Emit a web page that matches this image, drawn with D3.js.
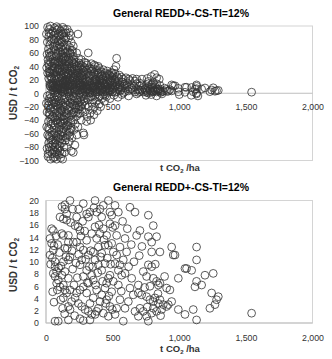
<!DOCTYPE html>
<html>
<head>
<meta charset="utf-8">
<script src="https://cdn.jsdelivr.net/npm/d3@7"></script>
<style>
  body { margin: 0; background: #fff; }
  svg { display: block; font-family: "Liberation Sans", Arial, sans-serif; }
</style>
</head>
<body>
<svg id="chart" width="332" height="359"></svg>
<script>
// points with 0 <= y <= 20 (shown in both panels)
var bandPoints = [
  [42,15.4],[55,15.1],[30,13.8],[42,13],[30,11.1],[55,11.9],[68,10],[68,9.2],[80,8.4],[55,8.1],[68,7.6],[50,5.1],[80,6.5],[92,7],[105,5.9],
  [118,14.6],[130,14.3],[105,17.3],[130,17],[142,19.3],[142,18.6],[155,17.8],[155,16.8],[180,20],[168,14.3],[168,13.2],[180,10.8],[168,10.3],
  [142,12.2],[130,10],[142,8.4],[168,7.3],[130,6.2],[142,5.4],[155,4.9],[180,5.4],[130,4.1],[168,2.7],[180,2.2],[168,0.5],[92,0.3],[68,0.3],
  [192,3.5],[205,13.2],[218,15.9],[242,15.7],[255,15.1],[230,17.3],[280,19.5],[305,17.8],[318,17.3],[330,18.1],[368,20],[380,18.1],[405,18.6],
  [418,17.3],[430,19.2],[468,20],[480,18.1],[493,17.6],[230,13.2],[255,12.4],[280,11.9],[305,13.5],[318,11.1],[355,11.6],[393,12.4],[418,11.4],
  [443,12.7],[468,12.7],[493,13],[255,9.5],[268,10.3],[305,8.6],[343,7.8],[355,7],[318,6.5],[280,5.9],[255,5.4],[230,4.9],[218,4.1],[243,3.2],
  [268,2.7],[293,2.2],[318,1.9],[343,1.4],[330,0.5],[280,0.4],[255,0.7],[393,2.4],[380,1.9],[368,1.4],[405,3.5],[418,4.6],[443,5.7],[455,6.5],
  [468,7.3],[480,7.8],[493,5.1],[455,3.8],[480,2.7],[468,1.1],[430,1.6],[393,9.5],[418,8.6],[443,9.7],[368,10.3],[343,14.6],[368,15.7],[405,14.6],
  [430,15.4],[455,14.3],[480,16.2],[380,13.8],[280,7.6],[305,4.9],[380,5.4],[355,4.1],[330,3.2],
  [518,19.2],[543,18.1],[518,15.9],[530,14.3],[505,11.6],[530,11.1],[555,12.4],[593,13.8],[605,11.6],[580,10.3],[555,9.5],[518,9.7],[543,8.6],
  [568,7.8],[593,8.1],[630,18.9],[668,18.1],[680,14.3],[705,15.1],[768,17.6],[768,14.1],[793,13.2],[805,15.9],[830,14.1],[793,11.6],[855,11.6],
  [768,9.5],[793,9.2],[730,8.4],[643,7.3],[693,6.2],[755,7.6],[805,7.3],[830,6.8],[843,6.2],[855,6.5],[655,4.6],[693,4.9],[718,4.6],[755,4.3],
  [780,3.8],[805,3.5],[818,4.1],[843,3.2],[855,3.8],[880,3],[905,2.7],[918,3],[943,3.5],[930,5.4],[705,2.4],[730,1.9],[755,1.1],[768,0.3],
  [693,1.1],[668,1.9],[618,3.5],[593,2.4],[580,0.3],[555,3.8],[530,2.4],[518,1.4],[630,5.7],[543,6.2],[805,2.4],[830,1.9],[868,2.2],[793,1.6],
  [905,5.7],[943,12.4],[955,11.1],[968,11.1],
  [993,7.3],[1043,8.9],[1055,8.9],[1093,8.6],[1130,12.4],[1130,10.3],[1118,5.9],[1130,6.8],[1168,6.2],[1193,7.8],[1255,8.1],[1243,4.9],
  [1293,4.3],[1280,3.8],[1268,3],[1230,2.4],[1105,2.2],[1130,0.5],[1043,1.4],[993,2.2],[1543,1.6],
  [35,9.6],[48,10.6],[60,12.6],[75,14.2],[88,12.8],[100,11.5],[112,9.3],[95,9],[120,7.8],[85,5.4],[60,3.4],[110,3.8],[125,2.4],[140,1.5],
  [150,10.8],[160,12.2],[185,16.4],[195,11.8],[200,8.8],[210,6.2],[215,1.2],[225,9.8],[235,7.4],[245,11.2],[262,14.2],[275,16.6],[290,15],
  [298,10.4],[310,6.6],[325,9.2],[335,11.8],[350,9.2],[360,18.8],[372,6.2],[388,8.2],[398,16],[410,10.8],[425,6.8],[435,13.6],[448,3.2],
  [460,10.6],[472,4.4],[485,9.6],[498,2.2],[500,15.6],[505,6.8],[565,5.2],[575,16.6],[610,15.4],[620,9.2],[640,12.8],[660,10],[700,11],
  [720,12.5],[740,5.8],[760,2.6],[780,6],[820,9.6],[840,4.8],[860,1.2],[890,7.6],[245,18.6],[200,18.6],[120,19]
];

// points outside 0..20 (top panel only)
var outerPoints = [
  [12,98],[25,95],[38,88],[20,84],[45,80],[10,76],[30,72],[18,66],[40,62],[8,58],[28,54],[15,50],[35,46],[22,42],[5,38],[42,34],[12,30],
  [30,26],[20,22],[50,92],[55,70],[48,56],[58,40],[52,28],[3,88],[33,100],[16,44],[26,36],
  [65,97],[80,99],[95,96],[110,93],[125,98],[140,95],[70,90],[88,87],[102,85],[118,88],[135,84],[150,90],[75,82],[92,78],[108,80],[122,76],
  [138,79],[68,74],[85,70],[100,72],[115,68],[130,71],[145,66],[72,64],[90,60],[105,62],[120,58],[140,60],[78,55],[95,52],[112,54],[128,50],
  [146,48],[65,47],[84,44],[100,46],[118,42],[135,40],[150,44],[70,38],[88,35],[104,37],[122,33],[140,30],[76,28],[94,25],[110,27],[126,23],
  [148,26],[62,21],[82,32],[98,41],[132,55],[115,49],
  [160,95],[175,90],[170,82],[185,86],[190,75],[160,72],[178,68],[195,64],[165,60],[185,58],[205,55],[170,52],[190,48],[210,50],[225,46],
  [175,44],[195,40],[215,42],[235,38],[250,45],[160,36],[180,33],[200,30],[220,34],[240,30],[260,35],[275,40],[285,32],[165,28],[185,25],
  [205,23],[230,26],[255,24],[280,27],[295,22],[240,88],[230,60],[245,52],[265,50],[300,45],[317,60],[205,70],[160,40],[215,28],[270,30],[290,38],
  [310,42],[325,38],[340,44],[355,36],[370,40],[385,34],[400,37],[415,32],[430,35],[445,30],[315,30],[335,28],[350,25],[365,31],[380,27],
  [395,24],[410,28],[425,22],[440,26],[320,22],[345,33],[375,21],[405,21],[305,34],
  [460,33],[475,28],[490,31],[505,26],[520,29],[535,24],[550,27],[470,22],[495,23],[515,21],[545,22],[565,24],[580,21],[600,23],[620,21],
  [650,22],[680,21],[530,52],[525,40],[510,35],[760,22],[790,25],[815,28],[830,23],[850,21],[720,21],
  [30,30],[50,34],[62,44],[78,48],[92,36],[106,32],[120,46],[136,36],[152,32],[168,46],[182,38],[198,46],[212,36],[228,40],[244,34],[258,28],
  [272,22],[288,46],[40,24],[70,26],[100,22],[130,28],[160,24],[190,28],[220,22],[250,38],[35,56],[60,66],[110,76],[150,54],[180,60],[200,62],
  [22,90],[58,86],[85,94],[130,90],[148,82],[36,78],[62,80],[96,68],[125,64],[155,62],[24,60],[52,48],[74,58],[140,52],[175,50],[210,44],
  [25,32],[45,40],[58,30],[88,46],[118,38],[145,38],[170,30],[195,34],[232,30],[262,42],[278,34],[298,28],[325,26],[360,28],[390,30],[420,26],
  [450,24],[480,26],[43,22],[85,22],[115,24],[150,21],[178,22],[210,25],[245,22],[268,26],[338,36],[362,42],[392,40],[458,28],[500,30],
  [10,-4],[25,-8],[40,-12],[15,-18],[35,-22],[8,-28],[28,-32],[45,-36],[18,-42],[38,-46],[5,-50],[25,-54],[42,-58],[12,-62],[32,-66],[50,-70],
  [20,-74],[40,-78],[8,-82],[28,-86],[45,-90],[15,-94],[35,-98],[55,-96],[48,-84],[52,-44],[55,-20],[3,-15],[22,-64],[30,-2],
  [65,-95],[80,-98],[95,-92],[110,-96],[72,-88],[88,-84],[105,-86],[120,-90],[68,-80],[85,-76],[100,-78],[118,-74],[135,-80],[75,-70],[92,-66],
  [110,-68],[128,-64],[145,-70],[62,-60],[80,-57],[98,-54],[115,-58],[132,-52],[150,-56],[70,-48],[88,-45],[105,-42],[122,-46],[140,-40],
  [65,-36],[82,-33],[100,-30],[118,-34],[135,-28],[150,-32],[72,-24],[90,-20],[108,-22],[125,-18],[145,-14],[68,-10],[85,-6],[102,-12],
  [120,-4],[140,-8],[78,-2],[95,-16],[112,-26],[130,-38],[148,-50],[60,-85],[90,-62],
  [160,-62],[175,-58],[190,-52],[165,-48],[185,-44],[205,-40],[220,-46],[170,-36],[190,-32],[210,-28],[230,-34],[245,-30],[160,-24],[180,-20],
  [200,-16],[225,-22],[250,-18],[270,-24],[165,-12],[185,-8],[205,-4],[235,-10],[260,-6],[285,-12],[300,-3],[217,-77],[280,-59],[285,-62],
  [305,-42],[195,-66],[240,-50],[265,-40],[290,-28],[175,-72],[155,-80],[190,-86],[205,-88],
  [310,-35],[330,-30],[350,-24],[320,-20],[345,-15],[365,-20],[380,-12],[400,-16],[420,-8],[440,-12],[315,-10],[340,-5],[370,-3],[395,-6],
  [430,-2],[455,-5],[335,-40],[360,-32],[385,-26],[410,-20],
  [480,-8],[510,-3],[540,-6],[570,-2],[620,-4],[680,-1],[750,-3],[790,-2],[830,-4],[870,-1],[1000,-2],[1090,-3],[1130,-1],[1140,-4],
  [30,-24],[50,-28],[62,-14],[78,-18],[92,-28],[106,-36],[120,-26],[136,-20],[152,-18],[168,-26],[182,-14],[198,-24],[212,-12],[228,-18],
  [244,-24],[258,-12],[272,-16],[288,-8],[40,-6],[70,-40],[100,-50],[130,-44],[160,-30],[190,-40],[220,-8],[250,-2],[35,-38],[60,-52],
  [110,-62],[150,-66],[180,-54],
  [20,-12],[48,-16],[58,-6],[74,-14],[96,-8],[114,-14],[132,-10],[156,-6],[174,-4],[196,-10],[215,-18],[240,-14],[262,-20],[278,-4],
  [22,-30],[52,-34],[84,-40],[110,-44],[138,-34],[162,-42],[198,-30],[226,-28],[255,-30],[295,-18],[325,-6],[355,-10],[405,-4],[445,-3],
  [18,-52],[48,-62],[76,-64],[102,-70],[126,-58],[156,-48],[176,-64],[212,-54],[232,-62],[38,-70],[68,-74],[92,-82],[140,-88],[125,-98],
  [24,-80],[52,-76],[16,-90],[80,-90]
];

var xTicks = [0, 500, 1000, 1500, 2000];
var yTicksTop = [-100, -80, -60, -40, -20, 0, 20, 40, 60, 80, 100];
var yTicksBottom = [0, 2, 4, 6, 8, 10, 12, 14, 16, 18, 20];
var chartTitle = 'General REDD+-CS-TI=12%';

var svg = d3.select('#chart');

function panel(cfg) {
  var x = d3.scaleLinear().domain([0, 2000]).range([46, 312.5]);
  var y = d3.scaleLinear().domain(cfg.yDomain).range([cfg.bottom, cfg.top]);
  var g = svg.append('g');

  // plot area border
  g.append('rect')
    .attr('x', x(0)).attr('y', cfg.top)
    .attr('width', x(2000) - x(0)).attr('height', cfg.bottom - cfg.top)
    .attr('fill', 'none').attr('stroke', '#d4d4d4').attr('stroke-width', 1);

  var xAxisY = y(0);
  g.append('line')
    .attr('x1', x(0)).attr('x2', x(2000))
    .attr('y1', xAxisY).attr('y2', xAxisY)
    .attr('stroke', '#bfbfbf');
  g.append('line')
    .attr('x1', x(0)).attr('x2', x(0))
    .attr('y1', cfg.top).attr('y2', cfg.bottom)
    .attr('stroke', '#bfbfbf');

  var xAxis = d3.axisBottom(x).tickValues(xTicks).tickSize(0).tickPadding(cfg.xPad)
    .tickFormat(d3.format(','));
  var yAxis = d3.axisLeft(y).tickValues(cfg.yTicks).tickSize(0).tickPadding(7);

  var xa = g.append('g').attr('transform', 'translate(0,' + xAxisY + ')').call(xAxis);
  var ya = g.append('g').attr('transform', 'translate(' + x(0) + ',0)').call(yAxis);
  [xa, ya].forEach(function (a) {
    a.select('.domain').remove();
    a.selectAll('text').attr('font-size', '8.8px').attr('fill', '#333')
      .attr('font-family', '"Liberation Sans", Arial, sans-serif');
  });

  g.append('g').selectAll('circle').data(cfg.points).enter().append('circle')
    .attr('cx', function (d) { return x(d[0]); })
    .attr('cy', function (d) { return y(d[1]); })
    .attr('r', 3.9)
    .attr('fill', 'none')
    .attr('stroke', '#333')
    .attr('stroke-opacity', 0.8)
    .attr('stroke-width', 1);

  g.append('text')
    .attr('x', 181).attr('y', cfg.titleY)
    .attr('text-anchor', 'middle')
    .attr('font-size', '10.5px').attr('font-weight', 'bold').attr('fill', '#000')
    .text(chartTitle);

  var xt = g.append('text')
    .attr('x', 180).attr('y', cfg.xTitleY)
    .attr('text-anchor', 'middle')
    .attr('font-size', '9.5px').attr('font-weight', 'bold').attr('fill', '#333');
  xt.append('tspan').text('t CO');
  xt.append('tspan').attr('font-size', '6px').attr('dy', 2).text('2');
  xt.append('tspan').attr('dy', -2).text(' /ha');

  var yt = g.append('text')
    .attr('transform', 'translate(17,' + cfg.yTitleMid + ') rotate(-90)')
    .attr('text-anchor', 'middle')
    .attr('font-size', '10px').attr('font-weight', 'bold').attr('fill', '#333');
  yt.append('tspan').text('USD / t CO');
  yt.append('tspan').attr('font-size', '6.5px').attr('dy', 2).text('2');
}

panel({
  yDomain: [-100, 100], top: 26, bottom: 160.5, yTicks: yTicksTop,
  points: bandPoints.concat(outerPoints), xPad: 11,
  titleY: 17, xTitleY: 171, yTitleMid: 93
});

panel({
  yDomain: [0, 20], top: 200.5, bottom: 323, yTicks: yTicksBottom,
  points: bandPoints, xPad: 12,
  titleY: 191, xTitleY: 352, yTitleMid: 265
});
</script>
</body>
</html>
